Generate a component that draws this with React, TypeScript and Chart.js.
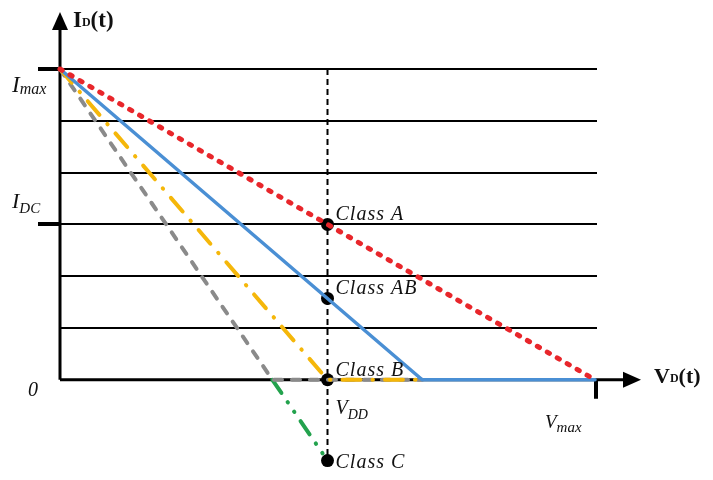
import { useEffect, useRef } from "react";
import { Chart, registerables } from "chart.js";

Chart.register(...registerables);

// Operating range (normalised): drain voltage 0..vMax, drain current 0..iMax
const vMax = 1;
const vDD = 0.5;
const iMax = 6;
const iDC = 3;
const gridLevels = [1, 2, 3, 4, 5, 6];

// Load lines for each amplifier class
const classAX = [0, 1];
const classAY = [6, 0];
const classABX = [0, 0.677, 1];
const classABY = [6, 0, 0];
const classBX = [0, 0.5, 0.677];
const classBY = [6, 0, 0];
const classCCutX = [0, 0.397, 0.677];
const classCCutY = [6, 0, 0];
const classCExtX = [0.397, 0.5];
const classCExtY = [0, -1.56];

// Quiescent points on the V_DD line
const qNames = ["Class A", "Class AB", "Class B", "Class C"];
const qY = [3, 1.57, 0, -1.56];

const SERIF = "'Liberation Serif', 'DejaVu Serif', serif";

function pts(xs: number[], ys: number[]) {
  return xs.map((x, i) => ({ x, y: ys[i] }));
}

function subText(
  ctx: CanvasRenderingContext2D,
  x: number,
  y: number,
  main: string,
  sub: string,
  tail: string,
  mainFont: string,
  subFont: string,
  subDrop: number
) {
  ctx.font = mainFont;
  ctx.fillText(main, x, y);
  let cx = x + ctx.measureText(main).width;
  ctx.font = subFont;
  ctx.fillText(sub, cx, y + subDrop);
  cx += ctx.measureText(sub).width;
  if (tail) {
    ctx.font = mainFont;
    ctx.fillText(tail, cx, y);
  }
}

const diagramPlugin = {
  id: "diagram",
  beforeDatasetsDraw(chart: any) {
    const { ctx, scales } = chart;
    const xs = scales.x;
    const ys = scales.y;
    const x0 = xs.getPixelForValue(0);
    const y0 = ys.getPixelForValue(0);
    const xEnd = xs.getPixelForValue(vMax);
    ctx.save();

    // horizontal current levels
    ctx.strokeStyle = "#000";
    ctx.lineWidth = 2;
    for (const g of gridLevels) {
      const py = Math.round(ys.getPixelForValue(g));
      ctx.beginPath();
      ctx.moveTo(x0, py);
      ctx.lineTo(xEnd + 2, py);
      ctx.stroke();
    }

    // V_DD reference line
    ctx.setLineDash([6, 4]);
    ctx.lineWidth = 2;
    const pxDD = xs.getPixelForValue(vDD);
    ctx.beginPath();
    ctx.moveTo(pxDD, ys.getPixelForValue(iMax));
    ctx.lineTo(pxDD, ys.getPixelForValue(qY[3]));
    ctx.stroke();
    ctx.setLineDash([]);

    // axes
    ctx.lineWidth = 3;
    ctx.beginPath();
    ctx.moveTo(x0, y0);
    ctx.lineTo(x0, 28);
    ctx.moveTo(x0, y0);
    ctx.lineTo(626, y0);
    ctx.stroke();
    ctx.fillStyle = "#000";
    ctx.beginPath();
    ctx.moveTo(x0, 12);
    ctx.lineTo(x0 - 8, 30);
    ctx.lineTo(x0 + 8, 30);
    ctx.closePath();
    ctx.fill();
    ctx.beginPath();
    ctx.moveTo(641, y0);
    ctx.lineTo(623, y0 - 8);
    ctx.lineTo(623, y0 + 8);
    ctx.closePath();
    ctx.fill();

    // ticks at I_max, I_DC and V_max
    ctx.lineWidth = 4;
    ctx.beginPath();
    for (const v of [iMax, iDC]) {
      const py = Math.round(ys.getPixelForValue(v));
      ctx.moveTo(38, py);
      ctx.lineTo(x0, py);
    }
    ctx.moveTo(xEnd + 1, y0);
    ctx.lineTo(xEnd + 1, y0 + 19);
    ctx.stroke();
    ctx.restore();
  },
  afterDatasetsDraw(chart: any) {
    const { ctx, scales } = chart;
    const xs = scales.x;
    const ys = scales.y;
    const x0 = xs.getPixelForValue(0);
    const y0 = ys.getPixelForValue(0);
    ctx.save();
    ctx.fillStyle = "#111";
    ctx.textBaseline = "alphabetic";
    ctx.textAlign = "left";

    // axis titles
    subText(ctx, x0 + 13, 27, "I", "D", "(t)", `bold 23px ${SERIF}`, `bold 12px ${SERIF}`, -1);
    subText(ctx, 654, y0 + 3, "V", "D", "(t)", `bold 22px ${SERIF}`, `bold 12px ${SERIF}`, -1);

    // level labels
    subText(ctx, 12, ys.getPixelForValue(iMax) + 23, "I", "max", "", `italic 23px ${SERIF}`, `italic 16px ${SERIF}`, 2);
    subText(ctx, 12, ys.getPixelForValue(iDC) - 16, "I", "DC", "", `italic 22px ${SERIF}`, `italic 15px ${SERIF}`, 5);
    ctx.font = `italic 20px ${SERIF}`;
    ctx.fillText("0", x0 - 32, y0 + 16);
    subText(ctx, xs.getPixelForValue(vDD) + 8, y0 + 34, "V", "DD", "", `italic 20px ${SERIF}`, `italic 14px ${SERIF}`, 5);
    subText(ctx, xs.getPixelForValue(vMax) - 50, y0 + 48, "V", "max", "", `italic 19px ${SERIF}`, `italic 15px ${SERIF}`, 4);

    // quiescent point labels
    ctx.font = `italic 20px ${SERIF}`;
    (ctx as any).letterSpacing = "1px";
    const pxDD = xs.getPixelForValue(vDD);
    qNames.forEach((n, i) => {
      ctx.fillText(n, pxDD + 8, ys.getPixelForValue(qY[i]) - 4 + (i === 3 ? 11 : 0));
    });
    ctx.restore();
  },
};

export default function App() {
  const ref = useRef<HTMLCanvasElement>(null);

  useEffect(() => {
    const canvas = ref.current;
    if (!canvas) return;
    const lineBase = {
      type: "line" as const,
      showLine: true,
      pointRadius: 0,
      fill: false,
      tension: 0,
      borderCapStyle: "round" as const,
      borderJoinStyle: "round" as const,
    };
    const chart = new Chart(canvas, {
      type: "scatter",
      data: {
        datasets: [
          {
            ...lineBase,
            label: "Class A",
            data: pts(classAX, classAY),
            borderColor: "#e8262b",
            borderWidth: 5,
            borderDash: [2.5, 9],
            order: 1,
          },
          {
            ...lineBase,
            label: "Class AB",
            data: pts(classABX, classABY),
            borderColor: "#4a8fd4",
            borderWidth: 3.5,
            order: 2,
          },
          {
            ...lineBase,
            label: "Class B",
            data: pts(classBX, classBY),
            borderColor: "#f5b70a",
            borderWidth: 4,
            borderDash: [18, 12, 0.5, 12],
            order: 3,
          },
          {
            ...lineBase,
            label: "Class C",
            data: pts(classCCutX, classCCutY),
            borderColor: "#8a8a8a",
            borderWidth: 4,
            borderDash: [8, 10],
            order: 4,
          },
          {
            ...lineBase,
            label: "Class C (below cut-off)",
            data: pts(classCExtX, classCExtY),
            borderColor: "#23a24d",
            borderWidth: 4,
            borderDash: [16, 11, 0.5, 11, 0.5, 11],
            order: 4,
          },
          {
            type: "scatter" as const,
            label: "Q points",
            data: qY.map((y) => ({ x: vDD, y })),
            pointRadius: 6.5,
            pointBackgroundColor: "#000",
            pointBorderWidth: 0,
            showLine: false,
            order: 10,
          },
        ],
      },
      options: {
        responsive: false,
        animation: false,
        devicePixelRatio: 1,
        layout: { padding: { left: 60, right: 118, top: 69, bottom: 7 } },
        scales: {
          x: { type: "linear", min: 0, max: vMax, display: false },
          y: { type: "linear", min: -1.8, max: iMax, display: false },
        },
        plugins: {
          legend: { display: false },
          tooltip: { enabled: false },
        },
        elements: { line: { clip: false } as any },
        datasets: { line: { clip: false } as any, scatter: { clip: false } as any },
      } as any,
      plugins: [diagramPlugin],
    });
    return () => chart.destroy();
  }, []);

  return (
    <div style={{ position: "fixed", left: 0, top: 0, width: 713, height: 480, background: "#fff" }}>
      <canvas ref={ref} width={713} height={480} />
    </div>
  );
}
